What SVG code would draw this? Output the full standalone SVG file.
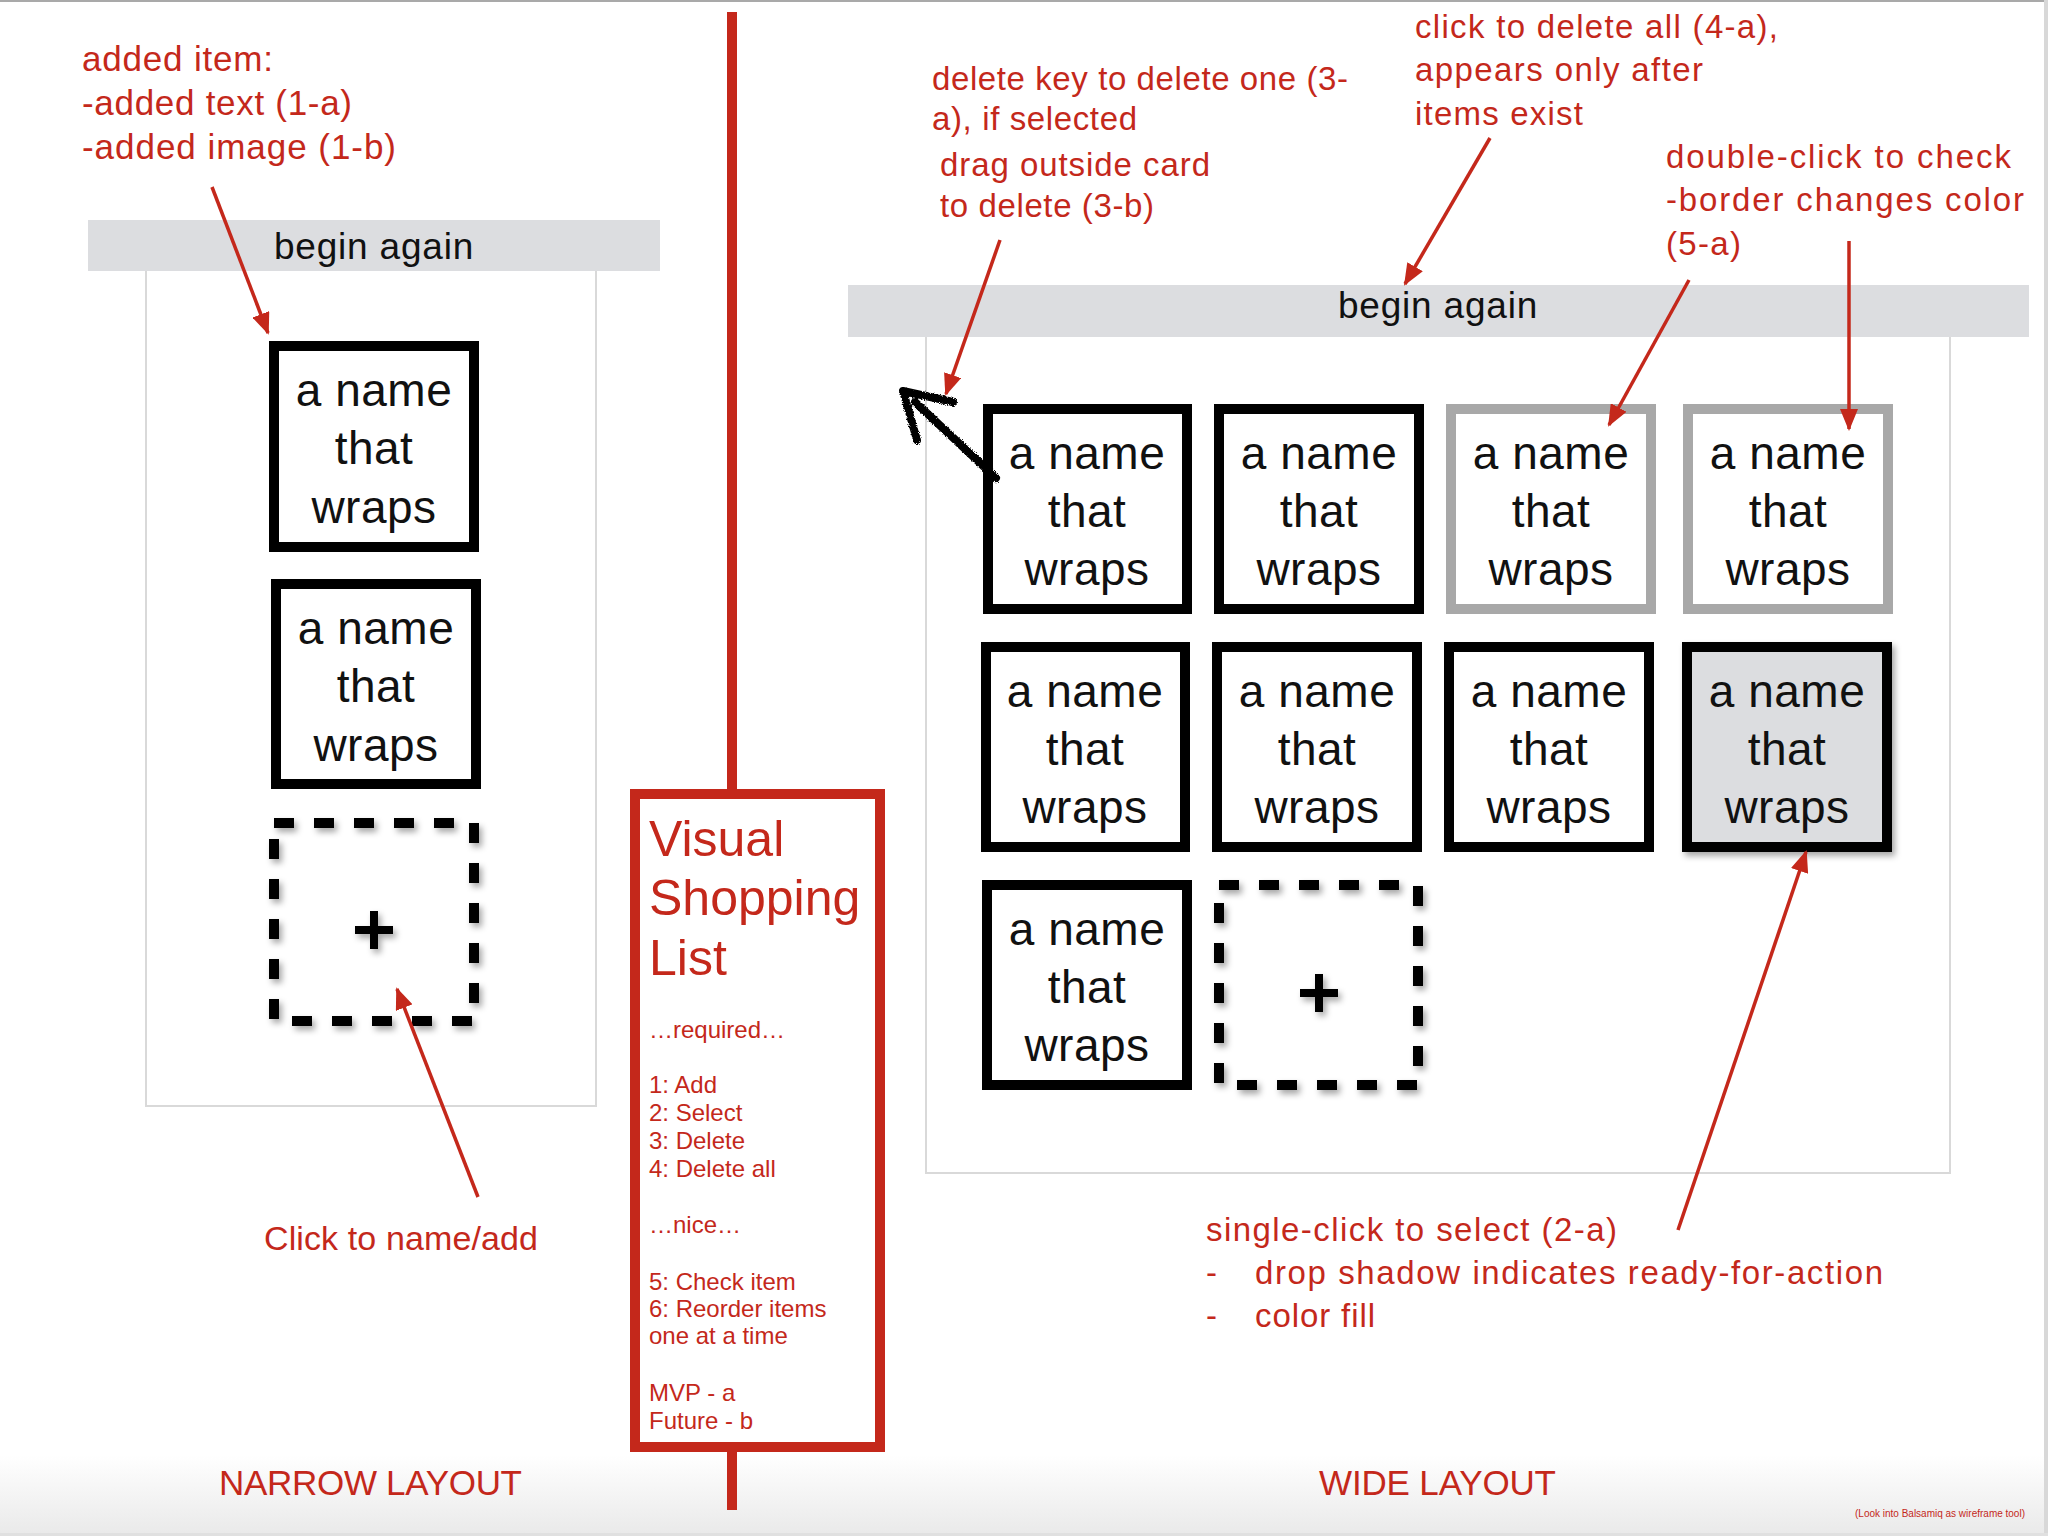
<svg xmlns="http://www.w3.org/2000/svg" width="2048" height="1536" viewBox="0 0 2048 1536">
<defs>
<style>
.ann{font-family:"Liberation Sans",Arial,sans-serif;fill:#c4281b;}
.card{fill:#ffffff;stroke:#000000;stroke-width:10;}
.cardg{fill:#ffffff;stroke:#a8a8a8;stroke-width:10;}
.dash{fill:none;stroke:#000000;stroke-width:10;stroke-dasharray:20 20;}
.ct{font-family:"Liberation Sans",Arial,sans-serif;font-size:46px;letter-spacing:0.5px;fill:#111111;text-anchor:middle;}
.bar{fill:#dcdde0;}
.panel{fill:none;stroke:#d9d9d9;stroke-width:2;}
.bt{font-family:"Liberation Sans",Arial,sans-serif;font-size:37px;letter-spacing:0.8px;fill:#111111;text-anchor:middle;}
.arr{fill:none;stroke:#c4281b;stroke-width:3.5;marker-end:url(#ah);}
.box{font-family:"Liberation Sans",Arial,sans-serif;fill:#c4281b;}
</style>
<marker id="ah" markerUnits="userSpaceOnUse" markerWidth="22" markerHeight="18" viewBox="0 0 22 18" refX="20" refY="9" orient="auto">
<path d="M0,0 L22,9 L0,18 z" fill="#c4281b"/>
</marker>
<filter id="shadow" x="-10%" y="-10%" width="125%" height="125%">
<feDropShadow dx="3" dy="4" stdDeviation="3" flood-color="#000000" flood-opacity="0.35"/>
</filter>
<filter id="rough" x="-20%" y="-20%" width="140%" height="140%">
<feTurbulence type="fractalNoise" baseFrequency="0.9" numOctaves="2" result="n"/>
<feDisplacementMap in="SourceGraphic" in2="n" scale="4" xChannelSelector="R" yChannelSelector="G"/>
</filter>
<linearGradient id="bottomfade" x1="0" y1="0" x2="0" y2="1">
<stop offset="0" stop-color="#ffffff"/>
<stop offset="1" stop-color="#e9e9e9"/>
</linearGradient>
</defs>

<g id="background">
<rect x="0" y="0" width="2048" height="1536" fill="#ffffff"/>
<rect x="0" y="1455" width="2048" height="81" fill="url(#bottomfade)"/>
<rect x="0" y="0" width="2048" height="2" fill="#a9a9a9"/>
<rect x="2044" y="0" width="4" height="1536" fill="#d8d8d8"/>
<rect x="0" y="1533" width="2048" height="3" fill="#e0e0e0"/>
</g>

<g id="narrow-layout">
<rect class="panel" x="146" y="270" width="450" height="836"/>
<rect class="bar" x="88" y="220" width="572" height="51"/>
<text class="bt" x="374" y="259">begin again</text>
</g>

<g id="narrow-card-1">
<rect class="card" x="274" y="346" width="200" height="201"/>
<text class="ct" x="374" y="406">a name</text>
<text class="ct" x="374" y="464">that</text>
<text class="ct" x="374" y="523">wraps</text>
</g>
<g id="narrow-card-2">
<rect class="card" x="276" y="584" width="200" height="200"/>
<text class="ct" x="376" y="644">a name</text>
<text class="ct" x="376" y="702">that</text>
<text class="ct" x="376" y="761">wraps</text>
</g>
<g id="narrow-add" filter="url(#shadow)">
<rect class="dash" x="274" y="823" width="200" height="198"/>
<rect x="355" y="926" width="38" height="8" fill="#000"/>
<rect x="370" y="911" width="8" height="38" fill="#000"/>
</g>

<g id="divider">
<rect x="727" y="12" width="10" height="778" fill="#c4281b"/>
<rect x="727" y="1450" width="10" height="60" fill="#c4281b"/>
</g>

<g id="requirements">
<rect x="635" y="794" width="245" height="653" fill="#ffffff" stroke="#c4281b" stroke-width="10"/>
<text class="box" font-size="50" x="649" y="856">Visual</text>
<text class="box" font-size="50" x="649" y="915">Shopping</text>
<text class="box" font-size="50" x="649" y="975">List</text>
<text class="box" font-size="24" x="649" y="1038">…required…</text>
<text class="box" font-size="24" x="649" y="1093">1: Add</text>
<text class="box" font-size="24" x="649" y="1121">2: Select</text>
<text class="box" font-size="24" x="649" y="1149">3: Delete</text>
<text class="box" font-size="24" x="649" y="1177">4: Delete all</text>
<text class="box" font-size="24" x="649" y="1233">…nice…</text>
<text class="box" font-size="24" x="649" y="1290">5: Check item</text>
<text class="box" font-size="24" x="649" y="1317">6: Reorder items</text>
<text class="box" font-size="24" x="649" y="1344">one at a time</text>
<text class="box" font-size="24" x="649" y="1401">MVP - a</text>
<text class="box" font-size="24" x="649" y="1429">Future - b</text>
</g>

<g id="wide-layout">
<rect class="panel" x="926" y="336" width="1024" height="837"/>
<rect class="bar" x="848" y="285" width="1181" height="52"/>
<text class="bt" x="1438" y="318">begin again</text>
</g>

<g id="wide-card-1">
<rect class="card" x="988" y="409" width="199" height="200"/>
<text class="ct" x="1087" y="469">a name</text><text class="ct" x="1087" y="527">that</text><text class="ct" x="1087" y="585">wraps</text>
</g>
<g id="wide-card-2">
<rect class="card" x="1219" y="409" width="200" height="200"/>
<text class="ct" x="1319" y="469">a name</text><text class="ct" x="1319" y="527">that</text><text class="ct" x="1319" y="585">wraps</text>
</g>
<g id="wide-card-3">
<rect class="cardg" x="1451" y="409" width="200" height="200"/>
<text class="ct" x="1551" y="469">a name</text><text class="ct" x="1551" y="527">that</text><text class="ct" x="1551" y="585">wraps</text>
</g>
<g id="wide-card-4">
<rect class="cardg" x="1688" y="409" width="200" height="200"/>
<text class="ct" x="1788" y="469">a name</text><text class="ct" x="1788" y="527">that</text><text class="ct" x="1788" y="585">wraps</text>
</g>
<g id="wide-card-5">
<rect class="card" x="986" y="647" width="199" height="200"/>
<text class="ct" x="1085" y="707">a name</text><text class="ct" x="1085" y="765">that</text><text class="ct" x="1085" y="823">wraps</text>
</g>
<g id="wide-card-6">
<rect class="card" x="1217" y="647" width="200" height="200"/>
<text class="ct" x="1317" y="707">a name</text><text class="ct" x="1317" y="765">that</text><text class="ct" x="1317" y="823">wraps</text>
</g>
<g id="wide-card-7">
<rect class="card" x="1449" y="647" width="200" height="200"/>
<text class="ct" x="1549" y="707">a name</text><text class="ct" x="1549" y="765">that</text><text class="ct" x="1549" y="823">wraps</text>
</g>
<g id="wide-card-8-selected">
<rect x="1687" y="647" width="200" height="200" fill="#dcdde0" stroke="#000" stroke-width="10" filter="url(#shadow)"/>
<text class="ct" x="1787" y="707">a name</text><text class="ct" x="1787" y="765">that</text><text class="ct" x="1787" y="823">wraps</text>
</g>
<g id="wide-card-9">
<rect class="card" x="987" y="885" width="200" height="200"/>
<text class="ct" x="1087" y="945">a name</text><text class="ct" x="1087" y="1003">that</text><text class="ct" x="1087" y="1061">wraps</text>
</g>
<g id="wide-add" filter="url(#shadow)">
<rect class="dash" x="1219" y="885" width="199" height="200"/>
<rect x="1300" y="989" width="38" height="8" fill="#000"/>
<rect x="1315" y="974" width="8" height="38" fill="#000"/>
</g>

<g id="annotations">
<text class="ann" font-size="35" x="82" y="71" textLength="191" lengthAdjust="spacing">added item:</text>
<text class="ann" font-size="35" x="82" y="115" textLength="270" lengthAdjust="spacing">-added text (1-a)</text>
<text class="ann" font-size="35" x="82" y="159" textLength="314" lengthAdjust="spacing">-added image (1-b)</text>
<text class="ann" font-size="34" x="264" y="1250" textLength="274" lengthAdjust="spacing">Click to name/add</text>
<text class="ann" font-size="35" x="219" y="1495" textLength="303" lengthAdjust="spacing">NARROW LAYOUT</text>

<text class="ann" font-size="33" x="932" y="90" textLength="416" lengthAdjust="spacing">delete key to delete one (3-</text>
<text class="ann" font-size="33" x="932" y="130" textLength="205" lengthAdjust="spacing">a), if selected</text>
<text class="ann" font-size="33" x="940" y="176" textLength="270" lengthAdjust="spacing">drag outside card</text>
<text class="ann" font-size="33" x="940" y="217" textLength="214" lengthAdjust="spacing">to delete (3-b)</text>
<text class="ann" font-size="33" x="1415" y="38" textLength="363" lengthAdjust="spacing">click to delete all (4-a),</text>
<text class="ann" font-size="33" x="1415" y="81" textLength="288" lengthAdjust="spacing">appears only after</text>
<text class="ann" font-size="33" x="1415" y="125" textLength="168" lengthAdjust="spacing">items exist</text>
<text class="ann" font-size="33" x="1666" y="168" textLength="345" lengthAdjust="spacing">double-click to check</text>
<text class="ann" font-size="33" x="1666" y="211" textLength="358" lengthAdjust="spacing">-border changes color</text>
<text class="ann" font-size="33" x="1666" y="255" textLength="75" lengthAdjust="spacing">(5-a)</text>

<text class="ann" font-size="33" x="1206" y="1241" textLength="411" lengthAdjust="spacing">single-click to select (2-a)</text>
<text class="ann" font-size="33" x="1206" y="1284">-</text>
<text class="ann" font-size="33" x="1255" y="1284" textLength="628" lengthAdjust="spacing">drop shadow indicates ready-for-action</text>
<text class="ann" font-size="33" x="1206" y="1327">-</text>
<text class="ann" font-size="33" x="1255" y="1327" textLength="120" lengthAdjust="spacing">color fill</text>
<text class="ann" font-size="35" x="1319" y="1495" textLength="237" lengthAdjust="spacing">WIDE LAYOUT</text>
<text class="ann" font-size="10" x="1855" y="1517" textLength="170" lengthAdjust="spacing" fill="#d2493d">(Look into Balsamiq as wireframe tool)</text>
</g>

<g id="connectors">
<line class="arr" x1="212" y1="187" x2="268" y2="333"/>
<line class="arr" x1="478" y1="1197" x2="397" y2="989"/>
<line class="arr" x1="1000" y1="240" x2="946" y2="394"/>
<line class="arr" x1="1490" y1="138" x2="1405" y2="284"/>
<line class="arr" x1="1689" y1="280" x2="1609" y2="425"/>
<line class="arr" x1="1849" y1="241" x2="1849" y2="429"/>
<line class="arr" x1="1678" y1="1230" x2="1806" y2="852"/>
<path d="M996,478 L915,402 M903,391 L917,440 M903,391 L953,402" fill="none" stroke="#000" stroke-width="8" stroke-linecap="round" filter="url(#rough)"/>
</g>
</svg>
